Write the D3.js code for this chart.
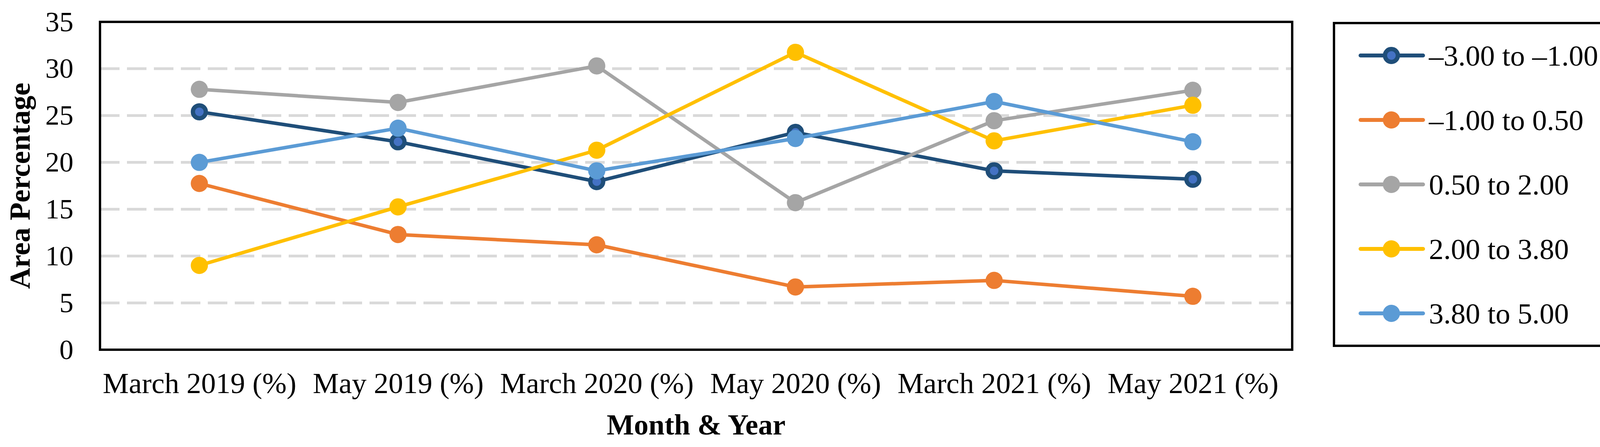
<!DOCTYPE html>
<html>
<head>
<meta charset="utf-8">
<script src="https://cdn.jsdelivr.net/npm/d3@7"></script>
<style>
	html, body { margin: 0; padding: 0; background: #fff; }
	svg { display: block; }
</style>
</head>
<body>
<script>
// chart data
const months = ["March 2019 (%)", "May 2019 (%)", "March 2020 (%)", "May 2020 (%)", "March 2021 (%)", "May 2021 (%)"];
const seriesNames = ["\u20133.00 to \u20131.00", "\u20131.00 to 0.50", "0.50 to 2.00", "2.00 to 3.80", "3.80 to 5.00"];
const seriesColors = ["#1f4e79", "#ed7d31", "#a5a5a5", "#ffc000", "#5b9bd5"];
const range1 = [25.4, 22.2, 17.95, 23.2, 19.1, 18.2];
const range2 = [17.75, 12.3, 11.2, 6.7, 7.4, 5.7];
const range3 = [27.8, 26.4, 30.3, 15.7, 24.45, 27.7];
const range4 = [9.0, 15.25, 21.3, 31.75, 22.3, 26.1];
const range5 = [20.0, 23.65, 19.1, 22.55, 26.5, 22.2];
const yTicks = [0, 5, 10, 15, 20, 25, 30, 35];

const series = [range1, range2, range3, range4, range5].map((vals, i) => ({
	name: seriesNames[i],
	color: seriesColors[i],
	values: vals.map((v, j) => ({ month: months[j], value: v }))
}));

const width = 4188;
const height = 1144;
const font = "'Liberation Serif', 'Times New Roman', serif";

const svg = d3.select("body").append("svg")
	.attr("width", width)
	.attr("height", height)
	.style("font-family", font);

const plot = { left: 256, right: 3308, top: 56, bottom: 895 };

const x = d3.scalePoint()
	.domain(months)
	.range([plot.left, plot.right])
	.padding(0.5);

const y = d3.scaleLinear()
	.domain([0, 35])
	.range([plot.bottom, plot.top]);

// dashed gridlines
svg.append("g")
	.selectAll("line")
	.data(yTicks.filter(t => t > 0 && t < 35))
	.enter().append("line")
	.attr("x1", plot.left)
	.attr("x2", plot.right)
	.attr("y1", d => y(d))
	.attr("y2", d => y(d))
	.attr("stroke", "#d9d9d9")
	.attr("stroke-width", 7)
	.attr("stroke-dasharray", "50,19");

// y axis labels
const yAxis = svg.append("g")
	.attr("transform", `translate(${plot.left},0)`)
	.call(d3.axisLeft(y).tickValues(yTicks).tickSize(0).tickPadding(68));
yAxis.select(".domain").remove();
yAxis.selectAll("text")
	.attr("font-size", 72)
	.attr("font-family", font)
	.attr("fill", "#000");

// x axis labels
const xAxis = svg.append("g")
	.attr("transform", `translate(0,${plot.bottom})`)
	.call(d3.axisBottom(x).tickSize(0).tickPadding(58));
xAxis.select(".domain").remove();
xAxis.selectAll("text")
	.attr("font-size", 75)
	.attr("font-family", font)
	.attr("fill", "#000");

// lines
const line = d3.line()
	.x(d => x(d.month))
	.y(d => y(d.value));

const groups = svg.append("g")
	.selectAll("g")
	.data(series)
	.enter().append("g");

groups.append("path")
	.attr("d", d => line(d.values))
	.attr("fill", "none")
	.attr("stroke", d => d.color)
	.attr("stroke-width", 9)
	.attr("stroke-linejoin", "round");

function addMarker(sel, i) {
	if (i === 0) {
		sel.attr("r", 16.5)
			.attr("fill", "#4472c4")
			.attr("stroke", seriesColors[0])
			.attr("stroke-width", 11);
	} else {
		sel.attr("r", 22)
			.attr("fill", seriesColors[i]);
	}
}

groups.each(function(s, i) {
	d3.select(this).selectAll("circle")
		.data(s.values)
		.enter().append("circle")
		.attr("cx", d => x(d.month))
		.attr("cy", d => y(d.value))
		.call(addMarker, i);
});

// plot border
svg.append("rect")
	.attr("x", plot.left)
	.attr("y", plot.top)
	.attr("width", plot.right - plot.left)
	.attr("height", plot.bottom - plot.top)
	.attr("fill", "none")
	.attr("stroke", "#000")
	.attr("stroke-width", 6);

// axis titles
svg.append("text")
	.attr("x", (plot.left + plot.right) / 2)
	.attr("y", 1112)
	.attr("text-anchor", "middle")
	.attr("font-size", 74)
	.attr("font-weight", "bold")
	.text("Month & Year");

svg.append("text")
	.attr("transform", `translate(76,${(plot.top + plot.bottom) / 2}) rotate(-90)`)
	.attr("text-anchor", "middle")
	.attr("font-size", 75)
	.attr("font-weight", "bold")
	.text("Area Percentage");

// legend
const legend = svg.append("g");
legend.append("rect")
	.attr("x", 3415)
	.attr("y", 59)
	.attr("width", 4157 - 3415)
	.attr("height", 885 - 59)
	.attr("fill", "#fff")
	.attr("stroke", "#000")
	.attr("stroke-width", 6);

const item = legend.selectAll("g.item")
	.data(series)
	.enter().append("g")
	.attr("class", "item")
	.attr("transform", (d, i) => `translate(0,${142 + i * 165})`);

item.append("line")
	.attr("x1", 3483)
	.attr("x2", 3643)
	.attr("stroke", d => d.color)
	.attr("stroke-width", 10)
	.attr("stroke-linecap", "round");

item.append("circle")
	.attr("cx", 3562)
	.attr("cy", 0)
	.each(function(d, i) { d3.select(this).call(addMarker, i); });

item.append("text")
	.attr("x", 3658)
	.attr("dy", "0.35em")
	.attr("font-size", 75)
	.text(d => d.name);
</script>
</body>
</html>
